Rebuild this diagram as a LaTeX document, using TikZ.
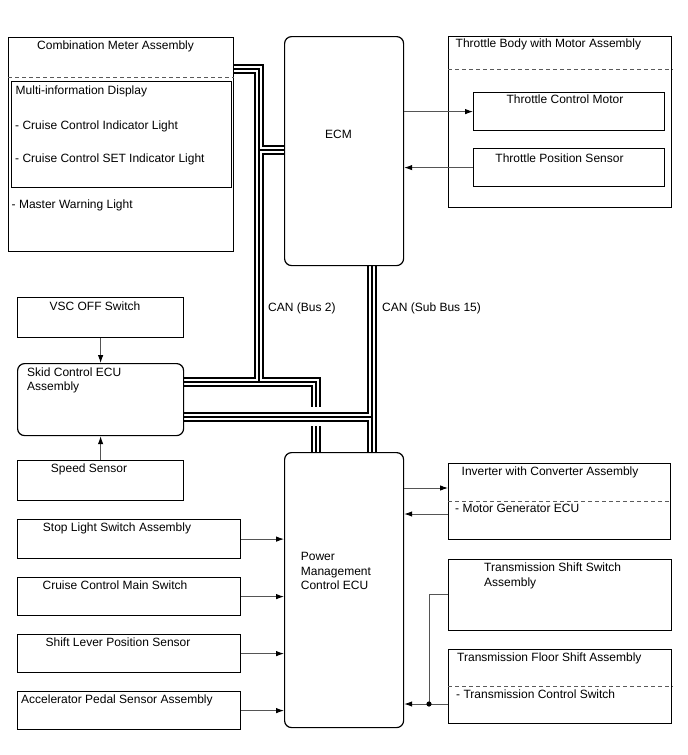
\documentclass[tikz,border=0pt]{standalone}
\usepackage{fontspec}
\setmainfont{Liberation Sans}
\usetikzlibrary{arrows.meta,calc}
\pgfdeclarelayer{bg}
\pgfsetlayers{bg,main}
\begin{document}
\begin{tikzpicture}[x=1pt,y=-1pt,
  box/.style={draw=black, line width=1.2pt, inner sep=0pt, anchor=north west},
  rbox/.style={box, rounded corners=7pt},
  txt/.style={inner sep=0pt, font=\fontsize{12pt}{14pt}\selectfont, text=black},
  dashline/.style={draw={rgb,255:red,90;green,90;blue,90}, line width=0.8pt, dash pattern=on 4pt off 3pt},
  conn/.style={draw={rgb,255:red,85;green,85;blue,85}, line width=0.9pt},
  arr/.style={conn, -{Latex[length=8pt,width=5.5pt,color=black]}},
  busA/.style={draw=black, line width=10.4pt, line cap=butt, line join=miter},
  busB/.style={draw=white, line width=5.4pt, line cap=butt, line join=miter},
  busC/.style={draw=black, line width=1.2pt, line cap=butt, line join=miter},
]
\useasboundingbox (0,0) rectangle (688,755);

% ---------- boxes ----------
\node[box, minimum width=225pt, minimum height=214pt] (meter) at (8,37) {};
\node[box, minimum width=220pt, minimum height=106pt] (mid) at (11,81) {};
\node[rbox, minimum width=119pt, minimum height=229pt] (ecm) at (284,36) {};
\node[box, minimum width=223pt, minimum height=171pt] (tb) at (448,36) {};
\node[box, minimum width=191pt, minimum height=38pt] (tcm) at (473,92) {};
\node[box, minimum width=191pt, minimum height=38pt] (tps) at (473,148) {};
\node[box, minimum width=166pt, minimum height=40pt] (vsc) at (17,297) {};
\node[rbox, minimum width=166pt, minimum height=72pt] (skid) at (17,363) {};
\node[box, minimum width=166pt, minimum height=40pt] (speed) at (17,460) {};
\node[rbox, minimum width=119pt, minimum height=275pt] (pmc) at (284,452) {};
\node[box, minimum width=223pt, minimum height=39pt] (stop) at (17,519) {};
\node[box, minimum width=223pt, minimum height=38pt] (ccms) at (17,577) {};
\node[box, minimum width=223pt, minimum height=38pt] (slps) at (17,634) {};
\node[box, minimum width=223pt, minimum height=38pt] (aps) at (17,691) {};
\node[box, minimum width=222pt, minimum height=76pt] (inv) at (448,463) {};
\node[box, minimum width=223pt, minimum height=71pt] (tss) at (448,559) {};
\node[box, minimum width=223pt, minimum height=74pt] (tfs) at (448,649) {};

% dashed separators
\draw[dashline] (meter.west |- 0,77) -- (meter.east |- 0,77);
\draw[dashline] (tb.west |- 0,69) -- (tb.east |- 0,69);
\draw[dashline] (inv.west |- 0,501) -- (inv.east |- 0,501);
\draw[dashline] (tfs.west |- 0,686) -- (tfs.east |- 0,686);

% ---------- texts ----------
\node[txt, anchor=base west] at (37,49) {Combination Meter Assembly};
\node[txt, anchor=base west] at (15.5,94) {Multi-information Display};
\node[txt, anchor=base west] at (15,129) {- Cruise Control Indicator Light};
\node[txt, anchor=base west] at (15,162.5) {- Cruise Control SET Indicator Light};
\node[txt, anchor=base west] at (11.5,208) {- Master Warning Light};
\node[txt, anchor=base] at (338.5,138) {ECM};
\node[txt, anchor=base west] at (455.5,47) {Throttle Body with Motor Assembly};
\node[txt, anchor=base] at (565,103) {Throttle Control Motor};
\node[txt, anchor=base] at (559.5,162) {Throttle Position Sensor};
\node[txt, anchor=base] at (95,310) {VSC OFF Switch};
\node[txt, anchor=base west] at (27,376) {Skid Control ECU};
\node[txt, anchor=base west] at (27,390) {Assembly};
\node[txt, anchor=base] at (89,472) {Speed Sensor};
\node[txt, anchor=base] at (117,531.5) {Stop Light Switch Assembly};
\node[txt, anchor=base] at (115,589) {Cruise Control Main Switch};
\node[txt, anchor=base] at (118,646.5) {Shift Lever Position Sensor};
\node[txt, anchor=base west] at (21,703) {Accelerator Pedal Sensor Assembly};
\node[txt, anchor=base west] at (300.7,560.7) {Power};
\node[txt, anchor=base west] at (300.7,575) {Management};
\node[txt, anchor=base west] at (300.7,589) {Control ECU};
\node[txt, anchor=base west] at (268,311) {CAN (Bus 2)};
\node[txt, anchor=base west] at (382,311) {CAN (Sub Bus 15)};
\node[txt, anchor=base west] at (461.5,475) {Inverter with Converter Assembly};
\node[txt, anchor=base west] at (455,512.5) {- Motor Generator ECU};
\node[txt, anchor=base west] at (484,571.5) {Transmission Shift Switch};
\node[txt, anchor=base west] at (484,586) {Assembly};
\node[txt, anchor=base west] at (457,661) {Transmission Floor Shift Assembly};
\node[txt, anchor=base west] at (456,698) {- Transmission Control Switch};

% ---------- CAN buses ----------
\coordinate (b2a) at (259,69);
\coordinate (b2b) at (259,150);
\coordinate (b2c) at (259,382);
\coordinate (b2d) at (316,382);
\coordinate (b2e) at (316,407);
\coordinate (b2f) at (316,426);
\coordinate (b15) at (372,417);
\begin{pgfonlayer}{bg}
\fill[white] (0,0) rectangle (688,755);
\foreach \s in {busA,busB,busC}{
  \draw[\s] (meter.east |- b2a) -- (b2a) -- (b2c);
  \draw[\s] (b2b) -- (b2b -| ecm.west);
  \draw[\s] (skid.east |- b2c) -- (b2d) -- (b2e);
  \draw[\s] (b2f) -- (b2f |- pmc.north);
  \draw[\s] (b15 |- ecm.south) -- (b15 |- pmc.north);
  \draw[\s] (skid.east |- b15) -- (b15);
}
\end{pgfonlayer}

% ---------- connectors ----------
\draw[arr] (ecm.east |- tcm.west) -- (tcm.west);
\draw[arr] (tps.west) -- (tps.west -| ecm.east);
\draw[arr] (vsc.south) -- (skid.north);
\draw[arr] (speed.north) -- (skid.south);
\draw[arr] (stop.east) -- (stop.east -| pmc.west);
\draw[arr] (ccms.east) -- (ccms.east -| pmc.west);
\draw[arr] (slps.east) -- (slps.east -| pmc.west);
\draw[arr] (aps.east) -- (aps.east -| pmc.west);
\draw[arr] (pmc.east |- 0,488) -- (inv.west |- 0,488);
\draw[arr] (inv.west |- 0,514) -- (pmc.east |- 0,514);
\coordinate (dot) at (429,704);
\draw[arr] (tfs.west |- dot) -- (dot -| pmc.east);
\draw[conn] (tss.west |- 0,594) -| (dot);
\fill[black] (dot) circle (2.6pt);
\end{tikzpicture}
\end{document}
